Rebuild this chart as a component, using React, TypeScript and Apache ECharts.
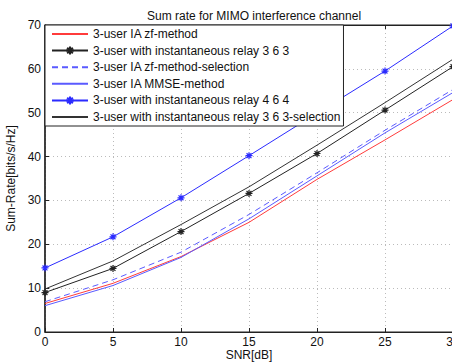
import React, { useEffect, useRef } from "react";
import * as echarts from "echarts";

const snr = [0, 5, 10, 15, 20, 25, 30];
const zfMethod = [6.5, 11.1, 17.2, 25.0, 34.8, 43.8, 53.0];
const relay363 = [9.0, 14.5, 22.9, 31.6, 40.7, 50.6, 60.5];
const zfSelection = [6.9, 11.9, 18.2, 26.8, 36.3, 46.0, 55.3];
const mmse = [6.0, 10.6, 17.0, 25.8, 35.6, 45.4, 54.6];
const relay464 = [14.6, 21.7, 30.6, 40.2, 49.9, 59.5, 69.8];
const relay363Sel = [9.8, 16.2, 24.5, 33.1, 42.6, 52.3, 62.2];

const names = [
  "3-user IA zf-method",
  "3-user with instantaneous relay 3 6 3",
  "3-user IA zf-method-selection",
  "3-user IA MMSE-method",
  "3-user with instantaneous relay 4 6 4",
  "3-user with instantaneous relay 3 6 3-selection",
];

const xTicks = [0, 5, 10, 15, 20, 25, 30];
const yTicks = [0, 10, 20, 30, 40, 50, 60, 70];

const STAR =
  "path://M5,0 L5,10 M0,5 L10,5 M1.5,1.5 L8.5,8.5 M1.5,8.5 L8.5,1.5";

const FONT = "Liberation Sans, Arial, Helvetica, sans-serif";

export default function App() {
  const ref = useRef<HTMLDivElement>(null);
  useEffect(() => {
    if (!ref.current) return;
    const chart = echarts.init(ref.current, undefined, { renderer: "svg" });
    const pair = (ys: number[]) => snr.map((x, i) => [x, ys[i]]);
    const mk = (
      name: string,
      ys: number[],
      color: string,
      opts: { dashed?: boolean; star?: boolean } = {}
    ) => ({
      name,
      type: "line",
      data: pair(ys),
      symbol: opts.star ? STAR : "circle",
      symbolSize: opts.star ? 7 : 0,
      showSymbol: !!opts.star,
      itemStyle: opts.star
        ? { color: "transparent", borderColor: color, borderWidth: 1.2 }
        : { color: "transparent", borderColor: "transparent", borderWidth: 0 },
      lineStyle: {
        color,
        width: 1,
        type: opts.dashed ? [6, 4] : "solid",
      },
      color,
    });
    chart.setOption({
      animation: false,
      textStyle: { fontFamily: FONT },
      title: {
        text: "Sum rate for MIMO interference channel",
        left: 249,
        textAlign: "center",
        top: 5,
        textStyle: { fontSize: 12, fontWeight: "normal", color: "#111", fontFamily: FONT },
      },
      grid: {
        left: 45,
        top: 25,
        right: -1,
        bottom: 32,
        outerBoundsMode: "none",
        containLabel: false,
        show: true,
        borderColor: "#222",
        borderWidth: 1,
      },
      legend: {
        orient: "vertical",
        left: 45,
        top: 25,
        data: names,
        itemWidth: 36,
        itemHeight: 10,
        itemGap: 4.6,
        padding: [3, 3, 3, 6],
        borderColor: "#222",
        borderWidth: 1,
        borderRadius: 0,
        backgroundColor: "#fff",
        textStyle: { fontSize: 12, color: "#111", fontFamily: FONT },
      },
      xAxis: [
        {
          type: "value",
          min: 0,
          max: 30,
          interval: 5,
          name: "SNR[dB]",
          nameLocation: "middle",
          nameGap: 17,
          nameMoveOverlap: false,
          nameTextStyle: { fontSize: 12, color: "#111", lineHeight: 12, verticalAlign: "top" },
          axisLine: { show: true, lineStyle: { color: "#222", width: 1.2 } },
          axisTick: { show: true, inside: true, length: 4, lineStyle: { color: "#222" } },
          axisLabel: {
            fontSize: 12,
            color: "#111",
            margin: 4,
            formatter: (v: number) => (xTicks.includes(v) ? String(v) : ""),
          },
          splitLine: { show: true, lineStyle: { color: "#bbb", type: [1, 3] } },
        },
        {
          type: "value",
          position: "top",
          min: 0,
          max: 30,
          interval: 5,
          axisLine: { show: true, lineStyle: { color: "#222" } },
          axisTick: { show: true, inside: true, length: 4, lineStyle: { color: "#222" } },
          axisLabel: { show: false },
          splitLine: { show: false },
        },
      ],
      yAxis: {
        type: "value",
        min: 0,
        max: 70,
        interval: 10,
        name: "Sum-Rate[bits/s/Hz]",
        nameLocation: "middle",
        nameGap: 22,
        nameTextStyle: { fontSize: 12, color: "#111" },
        axisLine: { show: true, lineStyle: { color: "#222", width: 1.5 } },
        axisTick: { show: true, inside: true, length: 4, lineStyle: { color: "#222" } },
        axisLabel: {
          fontSize: 12,
          color: "#111",
          margin: 4,
          formatter: (v: number) => (yTicks.includes(v) ? String(v) : ""),
        },
        splitLine: { show: true, lineStyle: { color: "#bbb", type: [1, 3] } },
      },
      series: [
        mk(names[0], zfMethod, "#ff3b3b"),
        mk(names[1], relay363, "#222222", { star: true }),
        mk(names[2], zfSelection, "#5a5aff", { dashed: true }),
        mk(names[3], mmse, "#5a5aff"),
        mk(names[4], relay464, "#2b2bff", { star: true }),
        mk(names[5], relay363Sel, "#333333"),
      ],
    });
    return () => chart.dispose();
  }, []);
  return (
    <div
      ref={ref}
      style={{ position: "fixed", left: 0, top: 0, width: 452, height: 364, background: "#fff" }}
    />
  );
}
